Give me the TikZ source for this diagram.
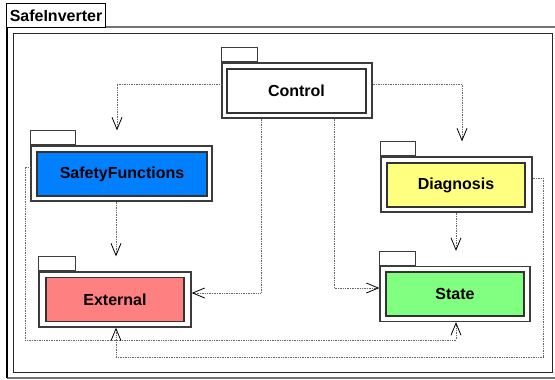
\documentclass[tikz,border=0pt]{standalone}
\usepackage{fontspec}
\setmainfont{Liberation Sans}
\usetikzlibrary{arrows.meta, positioning, calc}
\definecolor{sfblue}{RGB}{0,128,255}
\definecolor{diagyellow}{RGB}{255,255,128}
\definecolor{extred}{RGB}{255,128,128}
\definecolor{stategreen}{RGB}{128,255,128}
\definecolor{pkgline}{RGB}{60,60,60}

\begin{document}
\begin{tikzpicture}[x=1pt, y=-1pt,
    pkgbody/.style={draw=pkgline, line width=1.3pt, fill=white, minimum width=#1, minimum height=55pt, inner sep=0pt},
    pkgin/.style={draw=black!80, line width=1.1pt, fill=#1, minimum height=44pt, inner sep=0pt,
        font=\fontsize{16}{19}\selectfont\bfseries},
    pkgtab/.style={draw=pkgline, line width=1pt, fill=white, minimum width=#1, minimum height=14pt, inner sep=0pt},
    dep/.style={densely dotted, draw=black!60, line width=0.7pt,
        -{Straight Barb[length=12pt, width=10pt, line width=0.8pt, black]}}]
    \useasboundingbox (0,0) rectangle (555,380);

    % Khung ngoài "SafeInverter"
    \draw[black!55, line width=1.3pt] (7,27) -- (554.5,27); % cạnh trên
    \draw[black!55, line width=1.3pt] (7,378) -- (554.5,378); % cạnh dưới
    \draw[black, line width=1.3pt] (7,27) -- (7,378); % cạnh trái
    \node[draw, line width=1pt, fill=white, anchor=north west, minimum width=99pt, minimum height=24pt,
        inner sep=0pt, font=\fontsize{16}{19}\selectfont\bfseries] (top) at (6,3) {SafeInverter};
    \node[draw=black!85, line width=1.4pt, anchor=north west, minimum width=539pt, minimum height=339pt,
        inner sep=0pt] (frame) at (13,33) {}; % khung trong

    % Gói "Control"
    \node[pkgbody=150pt] (ctrl) at (297,90.5) {};
    \node[pkgtab=36pt, anchor=south west] (ctrlTab) at (ctrl.north west) {};
    \node[pkgin=white, minimum width=139pt] (ctrlIn) at (296.5,91) {Control};

    % Gói "SafetyFunctions", tô màu xanh dương
    \node[pkgbody=181pt] (sf) at (121.5,173.5) {};
    \node[pkgtab=45pt, anchor=south west] (sfTab) at (sf.north west) {};
    \node[pkgin=sfblue, minimum width=170pt] (sfIn) at (122,174) {SafetyFunctions};

    % Gói "Diagnosis", tô màu vàng
    \node[pkgbody=151pt] (diag) at (456.5,184.5) {};
    \node[pkgtab=35pt, anchor=south west] (diagTab) at (diag.north west) {};
    \node[pkgin=diagyellow, minimum width=138pt] (diagIn) at (456,185) {Diagnosis};

    % Gói "External", tô màu đỏ nhạt
    \node[pkgbody=152pt] (ext) at (115,299.5) {};
    \node[pkgtab=37pt, anchor=south west] (extTab) at (ext.north west) {};
    \node[pkgin=extred, minimum width=138pt] (extIn) at (115,299.5) {External};

    % Gói "State", tô màu xanh lá
    \node[pkgbody=150pt] (state) at (455,294) {};
    \node[pkgtab=36pt, anchor=south west] (stateTab) at (state.north west) {};
    \node[pkgin=stategreen, minimum width=138pt] (stateIn) at (455,294) {State};

    % Các mũi tên phụ thuộc (nét chấm)
    \draw[dep] (ctrl.west |- 0,84) -| (117,0 |- sfTab.north); % Control -> SafetyFunctions
    \draw[dep] (ctrl.east |- 0,84) -| (462,0 |- diagTab.north); % Control -> Diagnosis
    \draw[dep] (261,0 |- ctrl.south) |- (ext.east |- 0,293); % Control -> External
    \draw[dep] (334,0 |- ctrl.south) |- (state.west |- 0,288); % Control -> State
    \draw[dep] (116,0 |- sf.south) -- (116,0 |- extTab.north); % SafetyFunctions -> External
    \draw[dep] (456,0 |- diag.south) -- (456,0 |- stateTab.north); % Diagnosis -> State
    \draw[dep] (sf.west |- 0,167) -| (25,340) -| (456,0 |- state.south); % SafetyFunctions -> State
    \draw[dep] (diag.east |- 0,178) -| (543,357) -| (116,0 |- ext.south); % Diagnosis -> External
\end{tikzpicture}
\end{document}
